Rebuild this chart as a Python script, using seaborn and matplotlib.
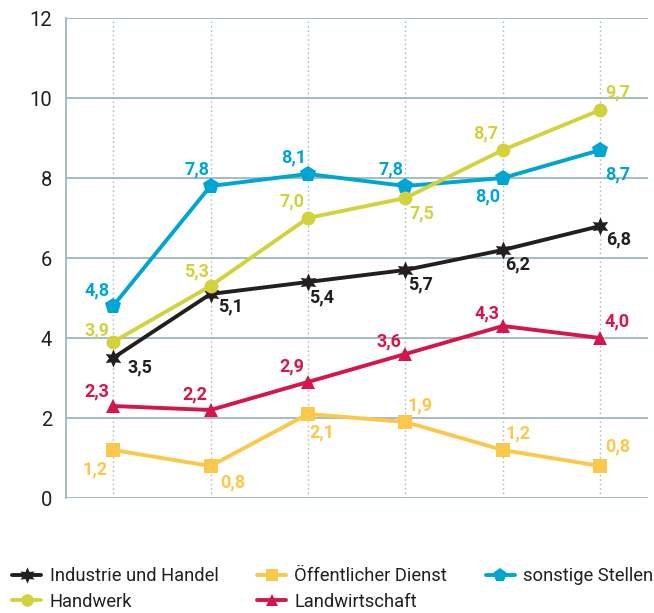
import matplotlib
matplotlib.use("Agg")
import matplotlib.pyplot as plt
import seaborn as sns
import pandas as pd
from matplotlib.lines import Line2D

sns.set_theme(style="white")
plt.rcParams['font.family'] = ['Roboto', 'DejaVu Sans']

positions = [0, 1, 2, 3, 4, 5]
series_names = ["Industrie und Handel", "Handwerk", "Öffentlicher Dienst",
                "Landwirtschaft", "sonstige Stellen"]
industrie = [3.5, 5.1, 5.4, 5.7, 6.2, 6.8]
handwerk = [3.9, 5.3, 7.0, 7.5, 8.7, 9.7]
oeffentlich = [1.2, 0.8, 2.1, 1.9, 1.2, 0.8]
landwirtschaft = [2.3, 2.2, 2.9, 3.6, 4.3, 4.0]
sonstige = [4.8, 7.8, 8.1, 7.8, 8.0, 8.7]
y_ticks = [0, 2, 4, 6, 8, 10, 12]

values = dict(zip(series_names, [industrie, handwerk, oeffentlich, landwirtschaft, sonstige]))
colors = {
    "Industrie und Handel": "#231f20",
    "Handwerk": "#d2d23c",
    "Öffentlicher Dienst": "#fcc84c",
    "Landwirtschaft": "#d4164c",
    "sonstige Stellen": "#00a6d2",
}
markers = {
    "Industrie und Handel": (6, 1, 0),
    "Handwerk": "o",
    "Öffentlicher Dienst": "s",
    "Landwirtschaft": "^",
    "sonstige Stellen": "p",
}
msizes = {
    "Industrie und Handel": 13,
    "Handwerk": 10,
    "Öffentlicher Dienst": 10,
    "Landwirtschaft": 10,
    "sonstige Stellen": 12,
}
# label offsets in pixels (dx, dy)
offsets = {
    "Industrie und Handel": [(27, -9), (20, -12), (14, -15), (15, -14), (15, -14), (18, -13)],
    "Handwerk": [(-16, 12), (-14, 15), (-16, 17), (17, -15), (-17, 17), (17, 18)],
    "Öffentlicher Dienst": [(-18, -19), (22, -16), (14, -18), (15, 17), (15, 17), (17, 20)],
    "Landwirtschaft": [(-16, 15), (-16, 16), (-16, 16), (-16, 13), (-16, 13), (17, 17)],
    "sonstige Stellen": [(-16, 16), (-14, 17), (-14, 17), (-14, 17), (-15, -18), (17, -24)],
}
draw_order = ["Industrie und Handel", "sonstige Stellen", "Landwirtschaft",
              "Öffentlicher Dienst", "Handwerk"]

fig = plt.figure(figsize=(6.54, 6.13), dpi=100)
ax = fig.add_axes([66 / 654, 1 - 498 / 613, (648 - 66) / 654, (498 - 18) / 613])

grid_c = "#9fb5c0"
for p in positions:
    ax.axvline(p, color=grid_c, linestyle=(0, (1, 2.2)), lw=1.0, zorder=0)
for t in y_ticks:
    ax.axhline(t, color=grid_c, lw=1.3, zorder=0)

for z, name in enumerate(draw_order):
    df = pd.DataFrame({"x": positions, "y": values[name]})
    sns.lineplot(data=df, x="x", y="y", ax=ax, color=colors[name], lw=2.8,
                 marker=markers[name], markersize=msizes[name],
                 markeredgewidth=0, zorder=3 + z, legend=False)
    for (px, py), (dx, dy) in zip(zip(positions, values[name]), offsets[name]):
        ax.annotate(f"{py:.1f}".replace(".", ","), (px, py), xytext=(dx, dy),
                    textcoords="offset pixels", ha="center", va="center",
                    fontsize=13, fontweight="bold", color=colors[name], zorder=10)

ax.set_xlim(-0.483, 5.49)
ax.set_ylim(0, 12)
ax.set_yticks(y_ticks)
ax.set_yticklabels([str(t) for t in y_ticks], fontsize=14.5, color="#231f20")
ax.set_xticks([])
ax.set_xlabel("")
ax.set_ylabel("")
ax.tick_params(axis="y", length=0, pad=10)
for s in ["top", "right", "bottom"]:
    ax.spines[s].set_visible(False)
ax.spines["left"].set_color(grid_c)
ax.spines["left"].set_linewidth(1.3)

legend_order = ["Industrie und Handel", "Handwerk", "Öffentlicher Dienst",
                "Landwirtschaft", "sonstige Stellen"]
handles = [Line2D([], [], color=colors[n], lw=2.8, marker=markers[n],
                  markersize=msizes[n] * 0.9, markeredgewidth=0) for n in legend_order]
leg = fig.legend(handles, legend_order, loc="upper left",
                 bbox_to_anchor=(12 / 654, 1 - 567 / 613),
                 ncol=3, frameon=False, prop={"size": 13.2},
                 handlelength=1.6, handletextpad=0.45, columnspacing=2.1,
                 labelspacing=0.42, borderpad=0, borderaxespad=0)
for t in leg.get_texts():
    t.set_color("#231f20")

fig.savefig("out.png", dpi=100)
